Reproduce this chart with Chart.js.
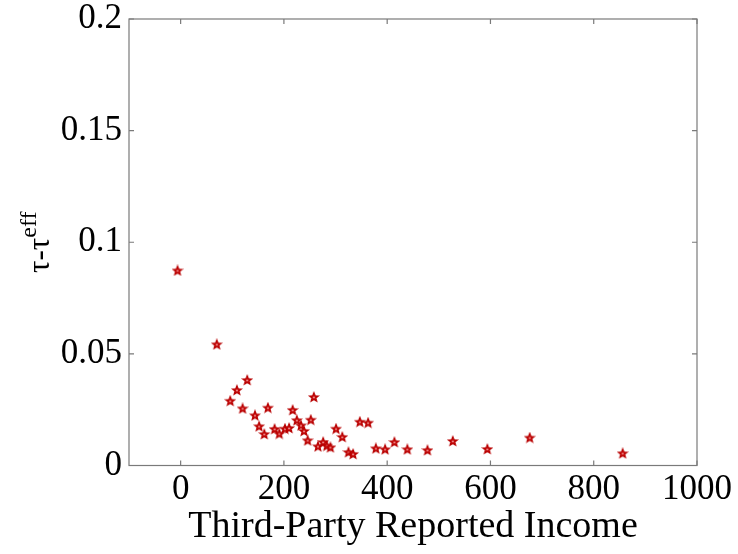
<!DOCTYPE html>
<html>
<head>
<meta charset="utf-8">
<script src="https://cdn.jsdelivr.net/npm/chart.js@4.4.1/dist/chart.umd.min.js"></script>
<style>
  html, body { margin: 0; padding: 0; background: #fff; }
  #wrap { width: 738px; height: 554px; position: relative; }
</style>
</head>
<body>
<div id="wrap"><canvas id="c" width="738" height="554"></canvas></div>
<script>
// ---- data ----
const incomeX = [-6, 70, 129, 109, 96, 120, 169, 144, 152, 162, 182, 191, 202, 210, 217, 225, 233, 239, 252, 258, 246, 266, 276, 283, 290, 301, 313, 325, 334, 347, 363, 378, 396, 414, 439, 478, 527, 594, 676, 856];
const gapY = [0.0874, 0.0543, 0.0383, 0.0338, 0.0290, 0.0256, 0.0259, 0.0225, 0.0176, 0.0141, 0.0164, 0.0143, 0.0165, 0.0168, 0.0249, 0.0203, 0.0180, 0.0155, 0.0205, 0.0307, 0.0113, 0.0086, 0.0105, 0.0089, 0.0082, 0.0165, 0.0128, 0.0060, 0.0052, 0.0196, 0.0192, 0.0077, 0.0073, 0.0105, 0.0073, 0.0069, 0.0110, 0.0074, 0.0125, 0.0055];
const xTickValues = [0, 200, 400, 600, 800, 1000];
const yTickValues = [0, 0.05, 0.1, 0.15, 0.2];
const yTickLabels = ['0', '0.05', '0.1', '0.15', '0.2'];
const xTitle = 'Third-Party Reported Income';
const yTitleMain = 'τ-τ';
const yTitleSup = 'eff';

const FONT = '"Liberation Serif", "DejaVu Serif", serif';
const AXIS_COLOR = '#7a7a7a';

// pentagram marker
function makeStar() {
  const s = 12, c = document.createElement('canvas');
  c.width = s; c.height = s;
  const g = c.getContext('2d');
  const R = 4.6, r = 2.0, cx = s / 2, cy = s / 2 + 0.4;
  g.beginPath();
  for (let i = 0; i < 10; i++) {
    const rad = i % 2 === 0 ? R : r;
    const a = -Math.PI / 2 + i * Math.PI / 5;
    const px = cx + rad * Math.cos(a), py = cy + rad * Math.sin(a);
    if (i === 0) g.moveTo(px, py); else g.lineTo(px, py);
  }
  g.closePath();
  g.fillStyle = '#cc1010';
  g.fill();
  g.lineWidth = 1.3;
  g.strokeStyle = '#b80000';
  g.lineJoin = 'miter';
  g.stroke();
  g.beginPath();
  g.arc(cx, cy, 0.9, 0, Math.PI * 2);
  g.fillStyle = '#f2a0a0';
  g.fill();
  return c;
}
const starImg = makeStar();

const points = incomeX.map((x, i) => ({ x: x, y: gapY[i] }));

const boxPlugin = {
  id: 'boxPlugin',
  afterDraw(chart) {
    const { ctx, chartArea: a, scales } = chart;
    ctx.save();
    ctx.strokeStyle = AXIS_COLOR;
    ctx.lineWidth = 1.2;
    ctx.strokeRect(a.left, a.top, a.right - a.left, a.bottom - a.top);
    const tl = 5;
    ctx.beginPath();
    xTickValues.forEach(v => {
      const px = scales.x.getPixelForValue(v);
      ctx.moveTo(px, a.bottom); ctx.lineTo(px, a.bottom - tl);
      ctx.moveTo(px, a.top); ctx.lineTo(px, a.top + tl);
    });
    yTickValues.forEach(v => {
      const py = scales.y.getPixelForValue(v);
      ctx.moveTo(a.left, py); ctx.lineTo(a.left + tl, py);
      ctx.moveTo(a.right, py); ctx.lineTo(a.right - tl, py);
    });
    ctx.stroke();
    // y title with superscript
    const mainFont = '31px ' + FONT, supFont = '24px ' + FONT;
    ctx.font = mainFont;
    const w1 = ctx.measureText(yTitleMain).width;
    ctx.font = supFont;
    const w2 = ctx.measureText(yTitleSup).width;
    const total = w1 + w2;
    const cy = (a.top + a.bottom) / 2;
    ctx.translate(49, cy);
    ctx.rotate(-Math.PI / 2);
    ctx.fillStyle = '#000';
    ctx.textBaseline = 'alphabetic';
    ctx.textAlign = 'left';
    ctx.font = mainFont;
    ctx.fillText(yTitleMain, -total / 2, 0);
    ctx.font = supFont;
    ctx.fillText(yTitleSup, -total / 2 + w1, -13);
    ctx.restore();
  }
};

new Chart(document.getElementById('c'), {
  type: 'scatter',
  data: {
    datasets: [{
      data: points,
      pointStyle: starImg,
      pointRadius: 5,
      pointHoverRadius: 5,
      borderColor: '#c40000',
      backgroundColor: '#c40000'
    }]
  },
  options: {
    responsive: false,
    animation: false,
    devicePixelRatio: 1,
    layout: { padding: { left: 0, right: 41, top: 19, bottom: 0 } },
    plugins: { legend: { display: false }, tooltip: { enabled: false } },
    scales: {
      x: {
        type: 'linear',
        min: -100, max: 1000,
        grid: { display: false, drawTicks: false },
        border: { display: false },
        afterBuildTicks(s) { s.ticks = xTickValues.map(v => ({ value: v })); },
        afterFit(s) { s.height = 88.5; s.paddingLeft = 0; s.paddingRight = 0; },
        ticks: {
          color: '#000',
          font: { family: FONT, size: 35 },
          padding: 3,
          maxRotation: 0,
          callback: v => String(v)
        },
        title: {
          display: true,
          text: xTitle,
          color: '#000',
          font: { family: FONT, size: 38 },
          padding: { top: 0, bottom: 4 }
        }
      },
      y: {
        type: 'linear',
        min: 0, max: 0.2,
        grid: { display: false, drawTicks: false },
        border: { display: false },
        afterBuildTicks(s) { s.ticks = yTickValues.map(v => ({ value: v })); },
        afterFit(s) { s.width = 129; s.paddingTop = 0; s.paddingBottom = 0; },
        ticks: {
          color: '#000',
          font: { family: FONT, size: 35 },
          padding: 7,
          callback: (v) => {
            const i = yTickValues.findIndex(t => Math.abs(t - v) < 1e-9);
            return i >= 0 ? yTickLabels[i] : '';
          }
        }
      }
    }
  },
  plugins: [boxPlugin]
});
</script>
</body>
</html>
